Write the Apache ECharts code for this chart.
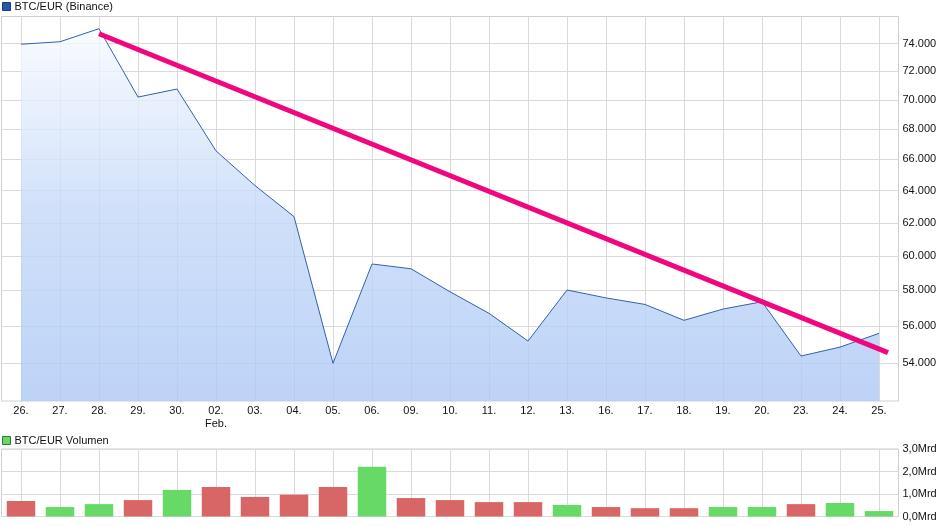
<!DOCTYPE html>
<html><head><meta charset="utf-8">
<script src="https://cdn.jsdelivr.net/npm/echarts@6/dist/echarts.min.js"></script>
<style>html,body{margin:0;padding:0;background:#fff}#c{width:940px;height:526px}</style>
</head><body><div id="c"></div>
<script>
// ---- data ----
const categories = ['26.','27.','28.','29.','30.','02.\nFeb.','03.','04.','05.','06.','09.','10.','11.','12.','13.','16.','17.','18.','19.','20.','23.','24.','25.'];
const closePrices = [73950,74130,75090,70190,70750,66560,64320,62380,53970,59530,59250,57920,56700,55170,58020,57570,57200,56310,56940,57350,54360,54840,55590];
const volumesMrd = [0.69,0.42,0.55,0.73,1.18,1.31,0.87,0.97,1.31,2.21,0.82,0.73,0.64,0.64,0.51,0.42,0.37,0.37,0.42,0.42,0.55,0.60,0.24];
const priceTicks = [54000,56000,58000,60000,62000,64000,66000,68000,70000,72000,74000];
const volumeTicks = [0,1,2,3];
const trendX = [2, 22.23];
const trendY = [74720, 54540];

// ---- chart ----
const FONT = 'Liberation Sans, Arial, sans-serif';
const gridColor = '#dadada';
const upColor = '#66d966', downColor = '#d96666';
const volData = volumesMrd.map((v, i) => ({
  value: v,
  itemStyle: { color: (i > 0 && closePrices[i] > closePrices[i - 1]) ? upColor : downColor }
}));
const chart = echarts.init(document.getElementById('c'), null, { renderer: 'canvas' });
chart.setOption({
  animation: false,
  textStyle: { fontFamily: FONT },
  legend: [
    { left: 2, top: 1, itemWidth: 8, itemHeight: 8, itemGap: 4, padding: 0,
      textStyle: { fontFamily: FONT, fontSize: 11, color: '#111', padding: [1,0,0,-1] },
      data: [{ name: 'BTC/EUR (Binance)', icon: 'rect', itemStyle: { color: '#2458b0', borderColor: '#183c78', borderWidth: 1 } }] },
    { left: 2, top: 435, itemWidth: 8, itemHeight: 8, itemGap: 4, padding: 0,
      textStyle: { fontFamily: FONT, fontSize: 11, color: '#111', padding: [1,0,0,-1] },
      data: [{ name: 'BTC/EUR Volumen', icon: 'rect', itemStyle: { color: '#66d966', borderColor: '#2e7a2e', borderWidth: 1 } }] }
  ],
  grid: [
    { left: 1.5, right: 41.5, top: 16.5, height: 384.5, outerBoundsMode: 'none', containLabel: false, show: true, borderColor: '#cfcfcf', borderWidth: 1, backgroundColor: 'transparent' },
    { left: 1.5, right: 41.5, top: 449, height: 67.5, outerBoundsMode: 'none', containLabel: false, show: true, borderColor: '#cfcfcf', borderWidth: 1, backgroundColor: 'transparent' }
  ],
  xAxis: [
    { type: 'category', gridIndex: 0, data: categories, boundaryGap: true,
      axisLine: { show: false }, axisTick: { show: false, alignWithLabel: true, interval: 0 },
      splitLine: { show: true, alignWithLabel: true, interval: 0, lineStyle: { color: gridColor, width: 1 } },
      axisLabel: { interval: 0, margin: 3, fontSize: 11, lineHeight: 13, color: '#111', fontFamily: FONT } },
    { type: 'value', gridIndex: 0, min: -0.5, max: 22.5, show: false },
    { type: 'category', gridIndex: 1, data: categories, boundaryGap: true,
      axisLine: { show: false }, axisTick: { show: false, alignWithLabel: true, interval: 0 },
      splitLine: { show: true, alignWithLabel: true, interval: 0, lineStyle: { color: gridColor, width: 1 } },
      axisLabel: { show: false } }
  ],
  yAxis: [
    { type: 'log', logBase: 10, gridIndex: 0, position: 'right', min: 52000, max: 76000,
      axisLine: { show: false }, axisTick: { show: false, customValues: priceTicks },
      splitLine: { show: true, lineStyle: { color: gridColor, width: 1 } },
      axisLabel: { customValues: priceTicks, margin: 4, fontSize: 11, color: '#111', fontFamily: FONT,
        formatter: v => Math.round(v / 1000) + '.000' } },
    { type: 'value', gridIndex: 1, position: 'right', min: 0, max: 3, interval: 1,
      axisLine: { show: false }, axisTick: { show: false },
      splitLine: { show: true, lineStyle: { color: gridColor, width: 1 } },
      axisLabel: { margin: 4, fontSize: 11, color: '#111', fontFamily: FONT,
        formatter: v => v.toFixed(1).replace('.', ',') + 'Mrd' } }
  ],
  series: [
    { name: 'BTC/EUR (Binance)', type: 'line', xAxisIndex: 0, yAxisIndex: 0, data: closePrices,
      symbol: 'none', lineStyle: { color: '#355eae', width: 1 }, itemStyle: { color: '#2458b0' },
      areaStyle: { origin: 'start', opacity: 1, color: new echarts.graphic.LinearGradient(0, 0, 0, 1, [
        { offset: 0, color: 'rgba(248,251,255,0.8)' },
        { offset: 0.5, color: 'rgba(196,216,248,0.8)' },
        { offset: 1, color: 'rgba(172,200,245,0.8)' }]) } },
    { name: 'Trend', type: 'line', xAxisIndex: 1, yAxisIndex: 0,
      data: trendX.map((x, i) => [x, trendY[i]]), symbol: 'none',
      lineStyle: { color: '#f0077f', width: 5, cap: 'butt' }, z: 5 },
    { name: 'BTC/EUR Volumen', type: 'bar', xAxisIndex: 2, yAxisIndex: 1, data: volData, barWidth: 28.5 }
  ]
});
</script></body></html>
